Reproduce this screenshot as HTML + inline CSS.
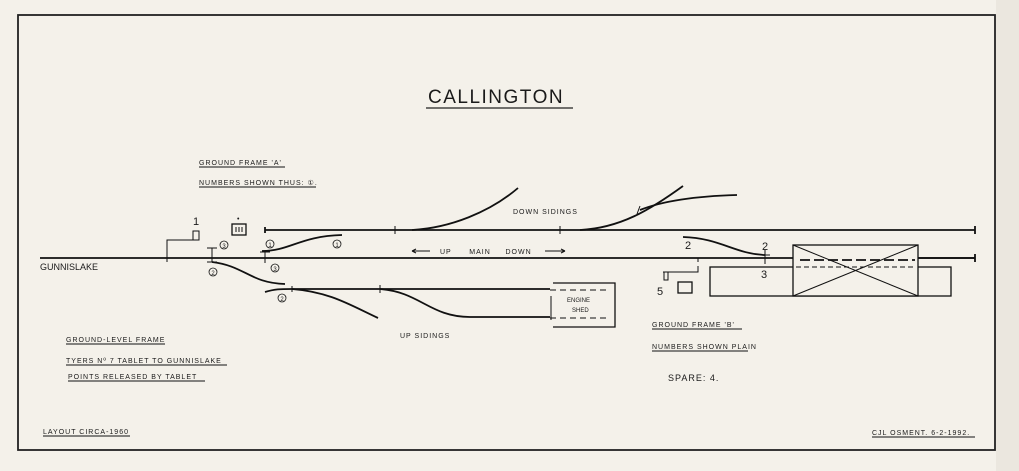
<!DOCTYPE html>
<html><head><style>
html,body{margin:0;padding:0;background:#f4f1ea;}
svg{display:block}
text{font-family:"Liberation Sans",sans-serif;fill:#1a1a1a;}
.s{font-size:7px;letter-spacing:1px}
</style></head><body>
<svg width="1019" height="471" viewBox="0 0 1019 471">
<rect x="0" y="0" width="1019" height="471" fill="#f4f1ea"/>
<rect x="996" y="0" width="23" height="471" fill="#ebe7df"/>
<rect x="18" y="15" width="977" height="435" fill="none" stroke="#222" stroke-width="1.8"/>
<text x="428" y="103" font-size="19" letter-spacing="1.5">CALLINGTON</text>
<line x1="426" y1="108" x2="573" y2="108" stroke="#222" stroke-width="1.3"/>

<g stroke="#111" fill="none" stroke-width="1.8">
<!-- main -->
<line x1="40" y1="258" x2="975" y2="258"/>
<line x1="975" y1="254" x2="975" y2="262"/>
<!-- down sidings -->
<line x1="265" y1="230" x2="975" y2="230"/>
<line x1="975" y1="226" x2="975" y2="234"/>
<path d="M265 227 v6"/>
<path d="M412 230 C450 228 490 212 518 188"/>
<path d="M580 230 C620 228 650 210 683 186"/>
<path d="M640 210 C665 200 700 196 737 195"/>
<!-- crossover A -->
<path d="M262 251 C290 251 300 236 342 235"/>
<path d="M212 262 C245 266 250 283 285 284"/>
<!-- up sidings -->
<path d="M265 292 C275 289 280 289 292 289 L550 289"/>
<path d="M292 289 C330 292 350 305 378 318"/>
<path d="M380 289 C420 292 430 317 470 317 L550 317"/>
<!-- crossover B -->
<path d="M683 237 C720 238 735 254 765 255"/>
</g>
<g stroke="#111" stroke-width="1">
<line x1="395" y1="226" x2="395" y2="234"/><line x1="560" y1="226" x2="560" y2="234"/>
<line x1="640" y1="206" x2="637" y2="214"/>
<line x1="292" y1="286" x2="292" y2="292"/><line x1="380" y1="285" x2="380" y2="293"/>
<!-- GF A lever -->
<path d="M167 262 v-22 h26" fill="none"/><rect x="193" y="231" width="6" height="9" fill="none"/>
<line x1="167" y1="250" x2="167" y2="258"/>
<line x1="212" y1="248" x2="212" y2="262"/><line x1="207" y1="248" x2="217" y2="248"/><line x1="207" y1="262" x2="217" y2="262"/>
<line x1="265" y1="252" x2="265" y2="263"/><line x1="260" y1="252" x2="270" y2="252"/>
<rect x="232" y="224" width="14" height="11" fill="none" stroke-width="1.3"/>
<line x1="236" y1="227" x2="236" y2="232"/><line x1="239" y1="227" x2="239" y2="232"/><line x1="242" y1="227" x2="242" y2="232"/>
<!-- arrows -->
<line x1="412" y1="251" x2="430" y2="251"/><path d="M412 251 l4 -2 M412 251 l4 2"/>
<line x1="545" y1="251" x2="565" y2="251"/><path d="M565 251 l-4 -2 M565 251 l-4 2"/>
<!-- engine shed -->
<path d="M553 283 h62 v44 h-62" fill="none" stroke-width="1.3"/>
<line x1="550" y1="290" x2="610" y2="290" stroke-dasharray="6 4"/>
<line x1="550" y1="318" x2="610" y2="318" stroke-dasharray="6 4"/>
<path d="M551 296 v24" fill="none"/>
<!-- GF B -->
<path d="M663 272 h35 v-6" fill="none"/><rect x="664" y="272" width="4" height="8" fill="none"/>
<line x1="698" y1="262" x2="698" y2="258"/>
<rect x="678" y="282" width="14" height="11" fill="none" stroke-width="1.3"/>
<line x1="765" y1="250" x2="765" y2="264"/><line x1="760" y1="255" x2="770" y2="255"/>
<!-- platform & bridge -->
<rect x="710" y="267" width="241" height="29" fill="#f4f1ea" stroke-width="1.3"/>
<rect x="793" y="245" width="125" height="51" fill="#f4f1ea" stroke-width="1.3"/>
<line x1="793" y1="245" x2="918" y2="296"/><line x1="793" y1="296" x2="918" y2="245"/>
<line x1="800" y1="260" x2="915" y2="260" stroke-width="1.8" stroke-dasharray="10 4"/>
<line x1="772" y1="267" x2="915" y2="267" stroke-dasharray="5 3"/>
<line x1="918" y1="258" x2="975" y2="258" stroke-width="1.8"/>
<!-- underlines -->
<line x1="199" y1="167" x2="285" y2="167"/>
<line x1="199" y1="187" x2="316" y2="187"/>
<line x1="66" y1="344" x2="165" y2="344"/>
<line x1="66" y1="365" x2="227" y2="365"/>
<line x1="68" y1="381" x2="205" y2="381"/>
<line x1="43" y1="436" x2="130" y2="436"/>
<line x1="652" y1="329" x2="742" y2="329"/>
<line x1="652" y1="351" x2="748" y2="351"/>
<line x1="872" y1="437" x2="975" y2="437"/>
</g>
<g font-size="8" text-anchor="middle">
<circle cx="224" cy="245" r="4" fill="none" stroke="#111" stroke-width="0.8"/><text x="224" y="248" font-size="6">3</text>
<circle cx="213" cy="272" r="4" fill="none" stroke="#111" stroke-width="0.8"/><text x="213" y="275" font-size="6">2</text>
<circle cx="270" cy="244" r="4" fill="none" stroke="#111" stroke-width="0.8"/><text x="270" y="247" font-size="6">1</text>
<circle cx="337" cy="244" r="4" fill="none" stroke="#111" stroke-width="0.8"/><text x="337" y="247" font-size="6">1</text>
<circle cx="275" cy="268" r="4" fill="none" stroke="#111" stroke-width="0.8"/><text x="275" y="271" font-size="6">3</text>
<circle cx="282" cy="298" r="4" fill="none" stroke="#111" stroke-width="0.8"/><text x="282" y="301" font-size="6">2</text>
</g>
<text x="193" y="225" font-size="11">1</text>
<text x="237" y="221" font-size="7">•</text>
<text x="685" y="249" font-size="11">2</text>
<text x="762" y="250" font-size="11">2</text>
<text x="761" y="278" font-size="11">3</text>
<text x="657" y="295" font-size="11">5</text>
<text x="40" y="270" font-size="9">GUNNISLAKE</text>
<text x="440" y="254" class="s">UP &#160;&#160;&#160;&#160; MAIN &#160;&#160;&#160; DOWN</text>
<text x="513" y="214" class="s" font-size="6">DOWN SIDINGS</text>
<text x="400" y="338" class="s" font-size="6">UP SIDINGS</text>
<text x="567" y="302" font-size="6">ENGINE</text>
<text x="572" y="312" font-size="6">SHED</text>
<text x="199" y="165" class="s">GROUND FRAME 'A'</text>
<text x="199" y="185" class="s" font-size="6">NUMBERS SHOWN THUS: ①.</text>
<text x="66" y="342" class="s" font-size="6">GROUND-LEVEL FRAME</text>
<text x="66" y="363" class="s" font-size="6">TYERS Nº 7 TABLET TO GUNNISLAKE</text>
<text x="68" y="379" class="s" font-size="6">POINTS RELEASED BY TABLET</text>
<text x="43" y="434" class="s" font-size="6">LAYOUT CIRCA-1960</text>
<text x="652" y="327" class="s" font-size="7">GROUND FRAME 'B'</text>
<text x="652" y="349" class="s" font-size="6">NUMBERS SHOWN PLAIN</text>
<text x="668" y="381" font-size="9" letter-spacing="1">SPARE: 4.</text>
<text x="872" y="435" class="s" font-size="6">CJL OSMENT. 6-2-1992.</text>
</svg>
</body></html>
